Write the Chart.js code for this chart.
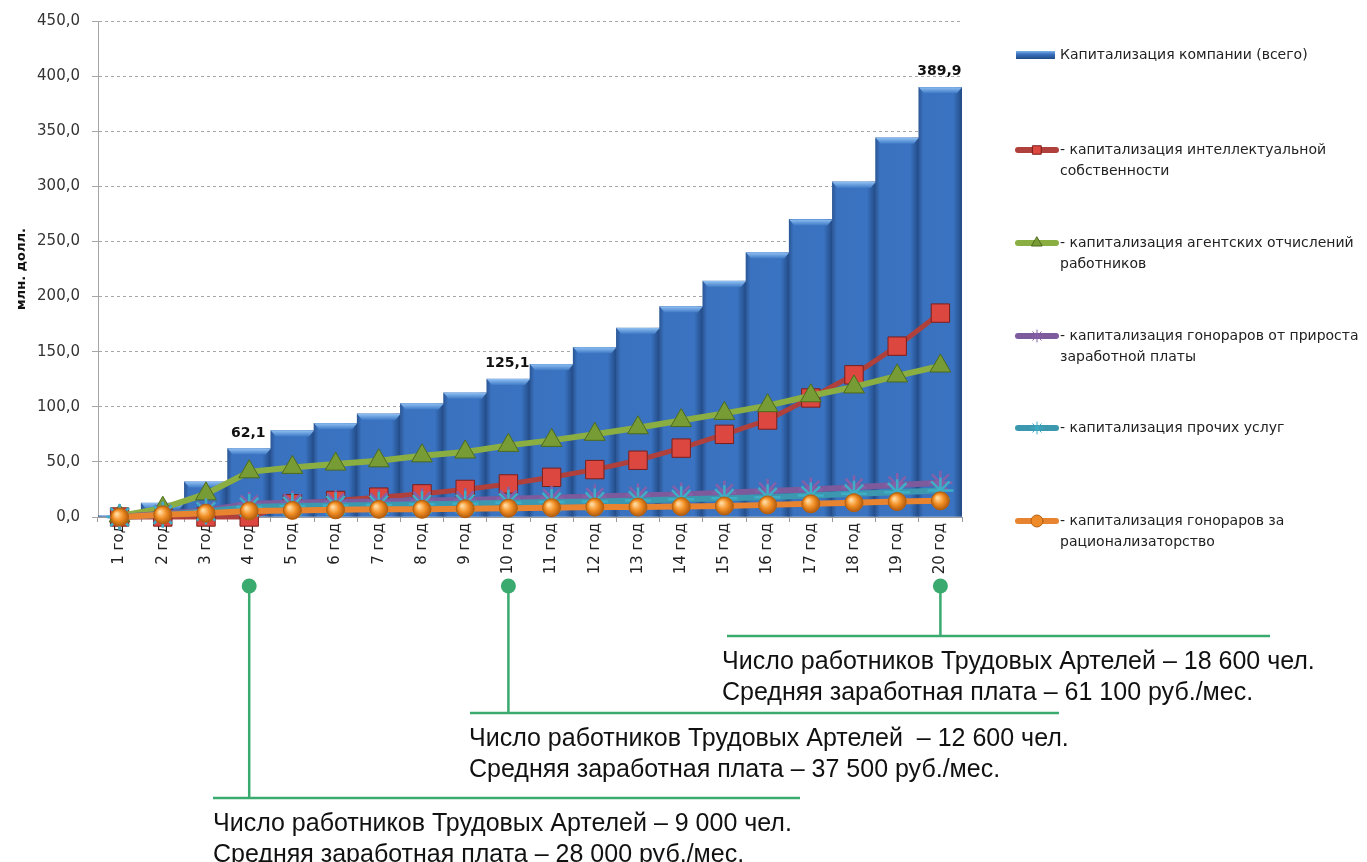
<!DOCTYPE html>
<html lang="ru">
<head>
<meta charset="utf-8">
<title>Капитализация компании</title>
<script src="https://cdn.jsdelivr.net/npm/chart.js@4.4.1/dist/chart.umd.min.js"></script>
<style>
  html, body { margin: 0; padding: 0; background: #fff; }
  canvas { display: block; }
</style>
</head>
<body>
<canvas id="chart" width="1367" height="862"></canvas>
<script>
// data (млн. долл.)
const years = ["1 год", "2 год", "3 год", "4 год", "5 год", "6 год", "7 год", "8 год", "9 год", "10 год",
  "11 год", "12 год", "13 год", "14 год", "15 год", "16 год", "17 год", "18 год", "19 год", "20 год"];
const totalCap = [1, 12.6, 32, 62.1, 78.5, 85, 93.5, 103, 112.7, 125.1,
  138.6, 154, 171.5, 191, 214, 240, 270, 304, 344, 389.9];
const intellectualCap = [0, 0, 0, 0, 12, 15, 18, 21, 25, 30,
  36, 43, 51.5, 62.5, 75, 88, 108, 129, 155, 185];
const agentCap = [1, 8, 21, 41, 45, 48, 51, 55.5, 59, 65,
  69.5, 75, 81, 87.5, 94, 101, 110, 118, 128, 137];
const wageGrowthCap = [0, 3, 6, 12, 13, 13.5, 14, 15, 15.5, 16.5,
  17.5, 18.5, 19.5, 20.5, 22, 23.5, 25, 27, 29, 31];
const otherServicesCap = [0, 2, 5, 9, 10, 10.5, 11, 11.5, 12, 13,
  13.5, 14, 15, 16, 17, 18, 19.5, 21, 22.5, 24];
const rationalizationCap = [0, 2, 3.5, 5.5, 6, 6.5, 7, 7, 7.5, 8,
  8.5, 9, 9, 9.5, 10, 11, 12, 13, 14, 14.7];

const seriesNames = [
  ["Капитализация компании (всего)"],
  ["- капитализация интеллектуальной", "собственности"],
  ["- капитализация агентских отчислений", "работников"],
  ["- капитализация гонораров от прироста", "заработной платы"],
  ["- капитализация прочих услуг"],
  ["- капитализация гонораров за", "рационализаторство"]
];

const labelledYears = ["4 год", "10 год", "20 год"];
const milestoneYears = ["4 год", "10 год", "20 год"];
const workers = ["9 000", "12 600", "18 600"];
const salaries = ["28 000", "37 500", "61 100"];
const workersSep = [" – ", "  – ", " – "];

const fmt = v => v.toFixed(1).replace(".", ",");

function barFill(ctx) {
  const c = ctx.chart;
  const xs = c.scales.x;
  if (ctx.type !== "data" || !xs) return "#3a72bf";
  const cx = xs.getPixelForValue(ctx.dataIndex);
  const w = xs.width / years.length / 2;
  if (!isFinite(cx) || !isFinite(w) || w <= 0) return "#3a72bf";
  const g = c.ctx.createLinearGradient(cx - w, 0, cx + w, 0);
  g.addColorStop(0, "#2b5797");
  g.addColorStop(0.1, "#3a72bf");
  g.addColorStop(0.8, "#3a73c1");
  g.addColorStop(1, "#224a85");
  return g;
}

function ballFill(ctx) {
  const c = ctx.chart;
  if (ctx.type !== "data" || !c.scales.y || !c.scales.x) return "#ee8a28";
  const px = c.scales.x.getPixelForValue(ctx.dataIndex);
  const py = c.scales.y.getPixelForValue(ctx.raw);
  if (!isFinite(px) || !isFinite(py)) return "#ee8a28";
  const g = c.ctx.createRadialGradient(px - 3, py - 3, 1, px, py, 10);
  g.addColorStop(0, "#ffd79a");
  g.addColorStop(0.45, "#f39127");
  g.addColorStop(1, "#a85208");
  return g;
}

// bevel on top of the bars
const barBevel = {
  id: "barBevel",
  afterDatasetDraw(chart, args) {
    if (args.index !== 0) return;
    const ctx = chart.ctx;
    ctx.save();
    args.meta.data.forEach(bar => {
      const { x, y, width } = bar.getProps(["x", "y", "width"], true);
      if (chart.scales.y.bottom - y < 6) return;
      const g = ctx.createLinearGradient(0, y, 0, y + 6);
      g.addColorStop(0, "#8fc0f2");
      g.addColorStop(1, "#3f7ac6");
      ctx.fillStyle = g;
      ctx.beginPath();
      ctx.moveTo(x - width / 2, y);
      ctx.lineTo(x + width / 2, y);
      ctx.lineTo(x + width / 2 - 5, y + 6);
      ctx.lineTo(x - width / 2 + 5, y + 6);
      ctx.closePath();
      ctx.fill();
    });
    ctx.restore();
  }
};

// value labels over selected bars
const barValues = {
  id: "barValues",
  afterDatasetsDraw(chart) {
    const ctx = chart.ctx;
    const meta = chart.getDatasetMeta(0);
    ctx.save();
    ctx.font = "bold 14px 'DejaVu Sans'";
    ctx.fillStyle = "#111";
    ctx.textAlign = "center";
    ctx.textBaseline = "alphabetic";
    labelledYears.forEach(yr => {
      const i = years.indexOf(yr);
      const bar = meta.data[i];
      ctx.fillText(fmt(totalCap[i]), bar.x - 1, bar.y - 12);
    });
    ctx.restore();
  }
};

// legend on the right
const sideLegend = {
  id: "sideLegend",
  afterDraw(chart) {
    const ctx = chart.ctx;
    const rows = [55, 150, 243, 336, 428, 521];
    ctx.save();
    ctx.font = "14px 'DejaVu Sans'";
    ctx.textBaseline = "middle";
    chart.data.datasets.forEach((ds, k) => {
      const y = rows[k];
      if (k === 0) {
        const g = ctx.createLinearGradient(0, y - 4, 0, y + 4);
        g.addColorStop(0, "#7fb2ea");
        g.addColorStop(0.4, "#3a72bf");
        g.addColorStop(1, "#224a85");
        ctx.fillStyle = g;
        ctx.fillRect(1016, y - 4, 39, 8);
      } else {
        ctx.strokeStyle = ds.borderColor;
        ctx.lineWidth = 6;
        ctx.lineCap = "round";
        ctx.beginPath();
        ctx.moveTo(1018, y);
        ctx.lineTo(1056, y);
        ctx.stroke();
        if (Chart.helpers && Chart.helpers.drawPoint) {
          ctx.fillStyle = typeof ds.pointBackgroundColor === "string" ? ds.pointBackgroundColor : "#ee8a28";
          ctx.strokeStyle = ds.pointBorderColor;
          ctx.lineWidth = 1;
          Chart.helpers.drawPoint(ctx, { pointStyle: ds.pointStyle, radius: 6, borderWidth: 1, rotation: 0 }, 1037, y);
        }
      }
      ctx.fillStyle = "#222";
      seriesNames[k].forEach((t, j) => ctx.fillText(t, 1060, y + j * 21));
    });
    ctx.restore();
  }
};

// callouts under the axis
const calloutLayout = [
  { lineY: 798, x1: 213, x2: 800, textX: 213 },
  { lineY: 713, x1: 470, x2: 1059, textX: 469 },
  { lineY: 636, x1: 727, x2: 1270, textX: 722 }
];
const callouts = {
  id: "callouts",
  afterDraw(chart) {
    const ctx = chart.ctx;
    const xs = chart.scales.x;
    ctx.save();
    milestoneYears.forEach((yr, k) => {
      const L = calloutLayout[k];
      const x = xs.getPixelForValue(years.indexOf(yr));
      const dotY = 586;
      ctx.strokeStyle = "#3aaa6e";
      ctx.fillStyle = "#3aaa6e";
      ctx.lineWidth = 2.5;
      ctx.beginPath();
      ctx.moveTo(x, dotY);
      ctx.lineTo(x, L.lineY);
      ctx.moveTo(L.x1, L.lineY);
      ctx.lineTo(L.x2, L.lineY);
      ctx.stroke();
      ctx.beginPath();
      ctx.arc(x, dotY, 7.5, 0, Math.PI * 2);
      ctx.fill();
      ctx.fillStyle = "#111";
      ctx.font = "25px 'Liberation Sans'";
      ctx.textBaseline = "alphabetic";
      ctx.fillText("Число работников Трудовых Артелей" + workersSep[k] + workers[k] + " чел.", L.textX, L.lineY + 33);
      ctx.fillText("Средняя заработная плата – " + salaries[k] + " руб./мес.", L.textX, L.lineY + 64);
    });
    ctx.restore();
  }
};

const lineBase = {
  type: "line",
  borderWidth: 6,
  pointBorderWidth: 1,
  tension: 0,
  clip: false
};

new Chart(document.getElementById("chart").getContext("2d"), {
  data: {
    labels: years,
    datasets: [
      {
        type: "bar",
        label: seriesNames[0].join(" "),
        data: totalCap,
        backgroundColor: barFill,
        borderWidth: 0,
        barPercentage: 1,
        categoryPercentage: 1,
        order: 10
      },
      Object.assign({}, lineBase, {
        label: seriesNames[1].join(" "),
        data: intellectualCap,
        borderColor: "#b0403c",
        borderWidth: 5,
        pointStyle: "rect",
        pointRadius: 13,
        pointBackgroundColor: "#dc4740",
        pointBorderColor: "#7a1f1c",
        order: 4
      }),
      Object.assign({}, lineBase, {
        label: seriesNames[2].join(" "),
        data: agentCap,
        borderColor: "#8aae42",
        pointStyle: "triangle",
        pointRadius: 12,
        pointBackgroundColor: "#789c35",
        pointBorderColor: "#4d6a1d",
        order: 3
      }),
      Object.assign({}, lineBase, {
        label: seriesNames[3].join(" "),
        data: wageGrowthCap,
        borderColor: "#7c5a9c",
        pointStyle: "star",
        pointRadius: 12,
        pointBorderWidth: 2.5,
        pointBackgroundColor: "#7c5a9c",
        pointBorderColor: "#8560a8",
        order: 2
      }),
      Object.assign({}, lineBase, {
        label: seriesNames[4].join(" "),
        data: otherServicesCap,
        borderColor: "#3c98ae",
        pointStyle: "star",
        pointRadius: 13,
        pointBorderWidth: 2.5,
        pointBackgroundColor: "#45b4cb",
        pointBorderColor: "#3eaec6",
        order: 1
      }),
      Object.assign({}, lineBase, {
        label: seriesNames[5].join(" "),
        data: rationalizationCap,
        borderColor: "#e8832f",
        pointStyle: "circle",
        pointRadius: 9,
        pointBackgroundColor: ballFill,
        pointBorderColor: "#b5600f",
        order: 0
      })
    ]
  },
  options: {
    responsive: false,
    animation: false,
    layout: { padding: { left: 0, top: 18, right: 405, bottom: 285 } },
    plugins: {
      legend: { display: false },
      tooltip: { enabled: false }
    },
    scales: {
      x: {
        afterFit: s => { s.height = 60; },
        grid: { drawOnChartArea: false, tickLength: 5, color: "#9a9a9a" },
        border: { color: "#9a9a9a" },
        ticks: {
          autoSkip: false,
          minRotation: 90,
          maxRotation: 90,
          padding: 1,
          color: "#222",
          font: { family: "'DejaVu Sans'", size: 15 }
        }
      },
      y: {
        min: 0,
        max: 450,
        afterFit: s => { s.width = 98; },
        grid: { color: "#a6a6a6", tickLength: 6 },
        border: { color: "#a6a6a6", dash: [3, 3] },
        ticks: {
          stepSize: 50,
          padding: 12,
          color: "#333",
          font: { family: "'DejaVu Sans'", size: 15 },
          callback: v => fmt(v)
        },
        title: {
          display: true,
          text: "млн. долл.",
          color: "#111",
          padding: { top: 14, bottom: 0 },
          font: { family: "'DejaVu Sans'", size: 13, weight: "bold" }
        }
      }
    }
  },
  plugins: [barBevel, barValues, sideLegend, callouts]
});
</script>
</body>
</html>
